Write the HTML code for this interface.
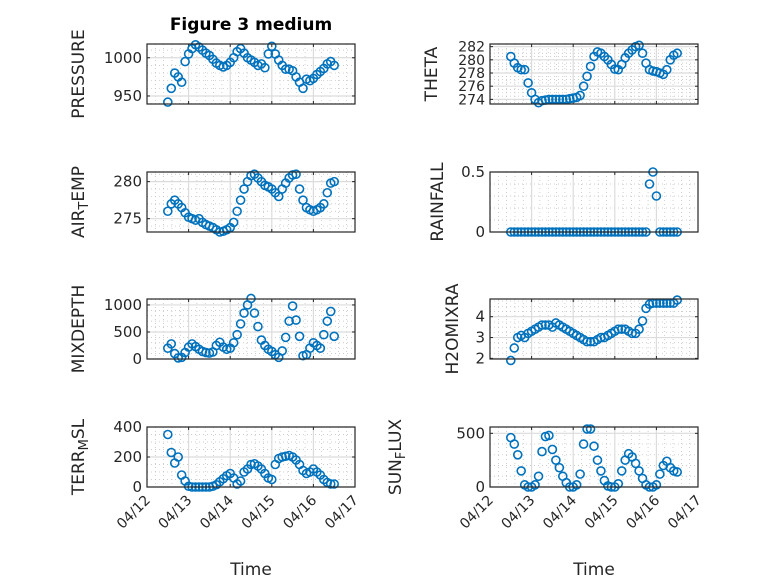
<!DOCTYPE html>
<html><head><meta charset="utf-8"><style>
body{margin:0;background:#fff;}
svg{display:block;font-family:"DejaVu Sans","Liberation Sans",sans-serif;}
</style></head><body>
<svg id="fig" width="778" height="583" viewBox="0 0 778 583" xmlns="http://www.w3.org/2000/svg">
<rect width="778" height="583" fill="#fff"/>
<text x="251" y="30" text-anchor="middle" font-size="17" font-weight="bold" fill="#000">Figure 3 medium</text>
<g id="plots"></g>
</svg>
<script>
const dayTicks = ["04/12","04/13","04/14","04/15","04/16","04/17"];
const tStart = 0.5, tStep = 1/12;
const pressure = [942,960,980,975,968,995,1005,1012,1017,1014,1010,1006,1003,998,993,990,988,990,994,1000,1008,1012,1006,1000,997,994,990,992,987,1005,1015,1005,997,990,985,985,983,975,968,960,972,970,973,978,982,986,992,995,990];
const airTemp = [276,277,277.5,277,276.5,275.8,275.2,275,274.8,275,274.5,274.2,274,273.8,273.5,273.2,273.3,273.5,273.8,274.5,276,277.5,279,280,280.8,281,280.5,280,279.5,279.3,279,278.5,278,279,279.8,280.5,280.9,281,279,277.5,276.5,276.2,276,276.2,276.5,277,278.5,279.8,280];
const mixDepth = [200,280,100,20,30,120,220,280,230,180,140,120,110,130,250,310,220,180,200,300,450,650,850,1000,1120,850,600,350,250,180,140,80,30,150,400,700,980,720,420,60,80,200,300,250,200,450,700,880,420];
const terrMsl = [350,230,160,200,80,40,5,0,0,0,0,0,0,5,15,35,55,75,90,60,20,40,100,120,150,155,140,120,90,60,50,150,190,200,205,210,200,180,150,110,90,100,120,100,80,50,30,20,20];
const theta = [280.5,279.5,278.8,278.5,278.5,276.5,275,274,273.5,273.8,273.9,274,274,274,274,274,274,274.1,274.2,274.3,274.6,276,277.5,279,280.5,281.2,281,280.5,280,279.3,278.6,278.5,279.3,280.3,281,281.5,282,282.2,281,279.5,278.5,278.3,278.2,278,277.8,278.5,280,280.7,281];
const rainfall = [0,0,0,0,0,0,0,0,0,0,0,0,0,0,0,0,0,0,0,0,0,0,0,0,0,0,0,0,0,0,0,0,0,0,0,0,0,0,0,0,0.4,0.5,0.3,0,0,0,0,0,0];
const h2o = [1.9,2.5,3.0,3.1,3.0,3.2,3.3,3.4,3.5,3.6,3.6,3.6,3.5,3.7,3.6,3.5,3.4,3.3,3.2,3.1,3.0,2.9,2.8,2.8,2.8,2.9,3.0,3.0,3.1,3.2,3.3,3.4,3.4,3.4,3.3,3.2,3.2,3.4,3.8,4.4,4.6,4.65,4.65,4.65,4.65,4.65,4.65,4.65,4.8];
const sunFlux = [460,400,300,150,20,0,0,20,100,330,470,480,350,250,180,100,40,0,0,20,120,400,540,540,380,250,150,60,10,0,0,30,150,250,310,280,220,150,80,20,0,0,20,120,200,240,180,150,140];

const pressureTicks=[950,1000], airTicks=[275,280], mixTicks=[0,500,1000], terrTicks=[0,200,400];
const thetaTicks=[274,276,278,280,282], rainTicks=[0,0.5], h2oTicks=[2,3,4], sunTicks=[0,500];

const NS="http://www.w3.org/2000/svg";
const root=document.getElementById('plots');
function mk(tag,attrs,parent){const e=document.createElementNS(NS,tag);for(const k in attrs)e.setAttribute(k,attrs[k]);(parent||root).appendChild(e);return e;}

const panels=[
 {name:'pressure',L:147,T:44,vals:pressure,ymin:939.5,ymax:1018,ticks:pressureTicks,minor:10,label:['PRESSURE'],lx:84,xl:false,fs:15},
 {name:'air-temp',L:147,T:172,vals:airTemp,ymin:273.2,ymax:281.3,ticks:airTicks,minor:1,label:['AIR','T','EMP'],lx:84,xl:false,fs:15},
 {name:'mixdepth',L:147,T:299,vals:mixDepth,ymin:0,ymax:1110,ticks:mixTicks,minor:100,label:['MIXDEPTH'],lx:84,xl:false,fs:15},
 {name:'terr-msl',L:147,T:427,vals:terrMsl,ymin:0,ymax:400,ticks:terrTicks,minor:50,label:['TERR','M','SL'],lx:84,xl:true,fs:15},
 {name:'theta',L:490,T:44,vals:theta,ymin:273.3,ymax:282.4,ticks:thetaTicks,minor:0.5,label:['THETA'],lx:437,xl:false,fs:14},
 {name:'rainfall',L:490,T:172,vals:rainfall,ymin:0,ymax:0.5,ticks:rainTicks,minor:0.1,label:['RAINFALL'],lx:443,xl:false,fs:15},
 {name:'h2omixra',L:490,T:299,vals:h2o,ymin:1.97,ymax:4.85,ticks:h2oTicks,minor:0.25,label:['H2OMIXRA'],lx:458,xl:false,fs:15},
 {name:'sun-flux',L:490,T:427,vals:sunFlux,ymin:0,ymax:559,ticks:sunTicks,minor:100,label:['SUN','F','LUX'],lx:401,xl:true,fs:15},
];
const W=208,H=60;
panels.forEach(p=>{
  const g=mk('g',{});
  
  
  const xs=d=>p.L+d/5*W;
  const ys=v=>p.T+H-(v-p.ymin)/(p.ymax-p.ymin)*H;
  mk('rect',{x:p.L,y:p.T,width:W,height:H,fill:'#fff'},g);
  for(let d=0.2;d<5;d+=0.2){ if(Math.abs(d-Math.round(d))<1e-6) continue;
    mk('line',{x1:xs(d),x2:xs(d),y1:p.T,y2:p.T+H,stroke:'#bdbdbd','stroke-width':0.7,'stroke-dasharray':'1,3'},g);}
  for(let v=Math.ceil(p.ymin/p.minor)*p.minor; v<=p.ymax; v+=p.minor){
    mk('line',{x1:p.L,x2:p.L+W,y1:ys(v),y2:ys(v),stroke:'#bdbdbd','stroke-width':0.7,'stroke-dasharray':'1,3'},g);}
  for(let d=1;d<5;d++) mk('line',{x1:xs(d),x2:xs(d),y1:p.T,y2:p.T+H,stroke:'#dcdcdc','stroke-width':1.2},g);
  p.ticks.forEach(v=>{
    mk('line',{x1:p.L,x2:p.L+W,y1:ys(v),y2:ys(v),stroke:'#dcdcdc','stroke-width':1.2},g);
    mk('line',{x1:p.L,x2:p.L+3,y1:ys(v),y2:ys(v),stroke:'#262626'},g);
    mk('line',{x1:p.L+W-3,x2:p.L+W,y1:ys(v),y2:ys(v),stroke:'#262626'},g);
    const t=mk('text',{x:p.L-5,y:ys(v)+5,'text-anchor':'end','font-size':p.fs,fill:'#262626'},g);
    
    
    t.textContent=String(v);
  });
  for(let d=0;d<=5;d++){
    mk('line',{x1:xs(d),x2:xs(d),y1:p.T+H,y2:p.T+H-3,stroke:'#262626'},g);
    mk('line',{x1:xs(d),x2:xs(d),y1:p.T,y2:p.T+3,stroke:'#262626'},g);
    if(p.xl){
      const t=mk('text',{x:xs(d)+4,y:p.T+H+14,'text-anchor':'end','font-size':14,fill:'#262626',transform:`rotate(-45 ${xs(d)+4} ${p.T+H+14})`},g);
      
      
      t.textContent=dayTicks[d];
    }
  }
  p.vals.forEach((v,i)=>{
    const c=mk('circle',{cx:xs(tStart+i*tStep),cy:ys(v),r:4,fill:'none',stroke:'#0072BD','stroke-width':1.6},g);
    
    
  });
  mk('rect',{x:p.L,y:p.T,width:W,height:H,fill:'none',stroke:'#262626','stroke-width':1.2},g);
  const cy=p.T+H/2;
  const lab=mk('text',{x:p.lx,y:cy,'text-anchor':'middle','font-size':17,fill:'#262626',transform:`rotate(-90 ${p.lx} ${cy})`},g);
  
  
  if(p.label.length===1) lab.textContent=p.label[0];
  else{
    mk('tspan',{},lab).textContent=p.label[0];
    mk('tspan',{'baseline-shift':'-30%','font-size':13},lab).textContent=p.label[1];
    mk('tspan',{},lab).textContent=p.label[2];
  }
  if(p.xl){
    const xt=mk('text',{x:p.L+W/2,y:575,'text-anchor':'middle','font-size':17,fill:'#262626'},g);
    
    
    xt.textContent='Time';
  }
});
</script>
</body></html>
